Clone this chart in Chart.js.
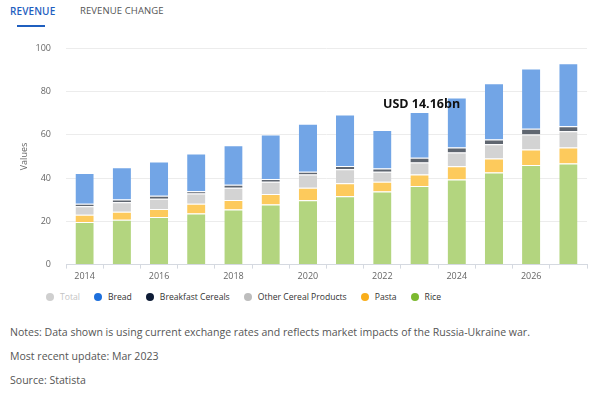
<!DOCTYPE html>
<html>
<head>
<meta charset="utf-8">
<script src="https://cdn.jsdelivr.net/npm/chart.js@4.4.0/dist/chart.umd.min.js"></script>
<style>
    body { margin: 0; width: 600px; height: 395px; background: #fff; font-family: "Open Sans", sans-serif; position: relative; overflow: hidden; }
    .tab { position: absolute; top: 4px; font-size: 10px; font-weight: 600; letter-spacing: 0.1px; }
    .tab.active { left: 10px; color: #1f5fbf; }
    .tab.other { left: 80px; color: #555; font-weight: 500; font-size: 9.5px; }
    .tab-line { position: absolute; left: 17px; top: 25px; width: 28px; height: 2px; background: #1f5fbf; }
    #chartBox { position: absolute; left: 0; top: 28px; width: 600px; height: 257px; }
    #legend { position: absolute; left: 46px; top: 291px; display: flex; align-items: center; font-size: 8.6px; color: #333; }
    #legend .item { display: flex; align-items: center; margin-right: 14px; }
    #legend .dot { width: 8px; height: 8px; border-radius: 50%; margin-right: 6px; }
    .note { position: absolute; left: 10px; font-size: 10.55px; color: #555; }
</style>
</head>
<body>
<div class="tab active">REVENUE</div>
<div class="tab other">REVENUE CHANGE</div>
<div class="tab-line"></div>

<div id="chartBox"><canvas id="revenueChart"></canvas></div>
<div id="legend"></div>

<div class="note" style="top:325px">Notes: Data shown is using current exchange rates and reflects market impacts of the Russia-Ukraine war.</div>
<div class="note" style="top:349px">Most recent update: Mar 2023</div>
<div class="note" style="top:373px">Source: Statista</div>

<script>
// values (USD bn)
var years = ['2014', '2015', '2016', '2017', '2018', '2019', '2020', '2021', '2022', '2023', '2024', '2025', '2026', '2027'];
var rice = [19.7, 20.7, 22.0, 23.6, 25.5, 27.8, 29.8, 31.6, 33.8, 36.3, 39.4, 42.6, 46.1, 46.8];
var pasta = [3.4, 3.7, 3.7, 4.6, 4.4, 4.9, 5.7, 6.0, 4.5, 5.4, 6.1, 6.5, 7.1, 7.4];
var otherCereal = [3.9, 4.4, 4.8, 4.7, 5.6, 5.6, 6.2, 6.5, 4.7, 5.5, 6.4, 6.6, 7.0, 7.5];
var breakfastCereals = [1.1, 1.3, 1.3, 1.0, 1.4, 1.3, 1.2, 1.5, 1.4, 2.2, 2.3, 2.2, 2.6, 2.3];
var bread = [14.3, 14.9, 15.9, 17.5, 18.3, 20.6, 22.2, 23.8, 17.8, 21.2, 23.1, 26.0, 27.9, 29.1];
var yTicks = [0, 20, 40, 60, 80, 100];
var annotationYear = '2023';
var annotationText = 'USD 14.16bn';

// legend entries (in the order shown)
var legendItems = [
    { label: 'Total', color: '#cfcfcf', text: '#c4c4c4' },
    { label: 'Bread', color: '#1d6fdc', text: '#333' },
    { label: 'Breakfast Cereals', color: '#0e1c36', text: '#333' },
    { label: 'Other Cereal Products', color: '#bdbdbd', text: '#333' },
    { label: 'Pasta', color: '#f9ae1b', text: '#333' },
    { label: 'Rice', color: '#7cb92f', text: '#333' }
];

var legendEl = document.getElementById('legend');
legendItems.forEach(function(it) {
    var d = document.createElement('div');
    d.className = 'item';
    d.innerHTML = '<span class="dot" style="background:' + it.color + '"></span><span style="color:' + it.text + '">' + it.label + '</span>';
    legendEl.appendChild(d);
});

function seg(label, data, color) {
    return {
        label: label,
        data: data,
        backgroundColor: color,
        borderColor: '#ffffff',
        borderWidth: { top: 1, left: 0, right: 0, bottom: 0 },
        borderSkipped: 'start',
        barPercentage: 0.49,
        categoryPercentage: 1
    };
}

var annotationPlugin = {
    id: 'topLabel',
    afterDatasetsDraw: function(chart) {
        var idx = years.indexOf(annotationYear);
        var total = rice[idx] + pasta[idx] + otherCereal[idx] + breakfastCereals[idx] + bread[idx];
        var x = chart.scales.x.getPixelForValue(idx);
        var y = chart.scales.y.getPixelForValue(total);
        var ctx = chart.ctx;
        ctx.save();
        ctx.font = 'bold 12.5px "Open Sans", sans-serif';
        ctx.fillStyle = '#111';
        ctx.textAlign = 'center';
        ctx.textBaseline = 'bottom';
        ctx.fillText(annotationText, x + 2, y - 1);
        ctx.restore();
    }
};

var ctx = document.getElementById('revenueChart').getContext('2d');
var revenueChart = new Chart(ctx, {
    type: 'bar',
    data: {
        labels: years,
        datasets: [
            seg('Rice', rice, '#b3d57f'),
            seg('Pasta', pasta, '#fdca5c'),
            seg('Other Cereal Products', otherCereal, '#d3d3d3'),
            seg('Breakfast Cereals', breakfastCereals, '#5f6670'),
            seg('Bread', bread, '#72a5e6')
        ]
    },
    options: {
        responsive: true,
        maintainAspectRatio: false,
        animation: false,
        layout: { padding: { top: 6, right: 13, left: 0, bottom: 0 } },
        plugins: {
            legend: { display: false },
            tooltip: { enabled: false }
        },
        scales: {
            x: {
                stacked: true,
                grid: { display: true, drawOnChartArea: false, tickLength: 4, color: '#d5d9e0' },
                border: { color: '#d5d9e0' },
                ticks: {
                    autoSkip: false,
                    maxRotation: 0,
                    color: '#666',
                    font: { family: 'Open Sans', size: 9 },
                    padding: 2,
                    callback: function(val, i) { return i % 2 === 0 ? years[i] : ''; }
                }
            },
            y: {
                stacked: true,
                min: 0,
                max: 100,
                afterBuildTicks: function(scale) {
                    scale.ticks = yTicks.map(function(v) { return { value: v }; });
                },
                afterFit: function(scale) { scale.width = 66; },
                grid: { color: '#ececec', drawTicks: false },
                border: { display: false },
                ticks: {
                    color: '#666',
                    font: { family: 'Open Sans', size: 9 },
                    padding: 15
                },
                title: {
                    display: true,
                    text: 'Values',
                    color: '#666',
                    font: { family: 'Open Sans', size: 9 },
                    padding: { top: 19, bottom: 0 }
                }
            }
        }
    },
    plugins: [annotationPlugin]
});
</script>
</body>
</html>
